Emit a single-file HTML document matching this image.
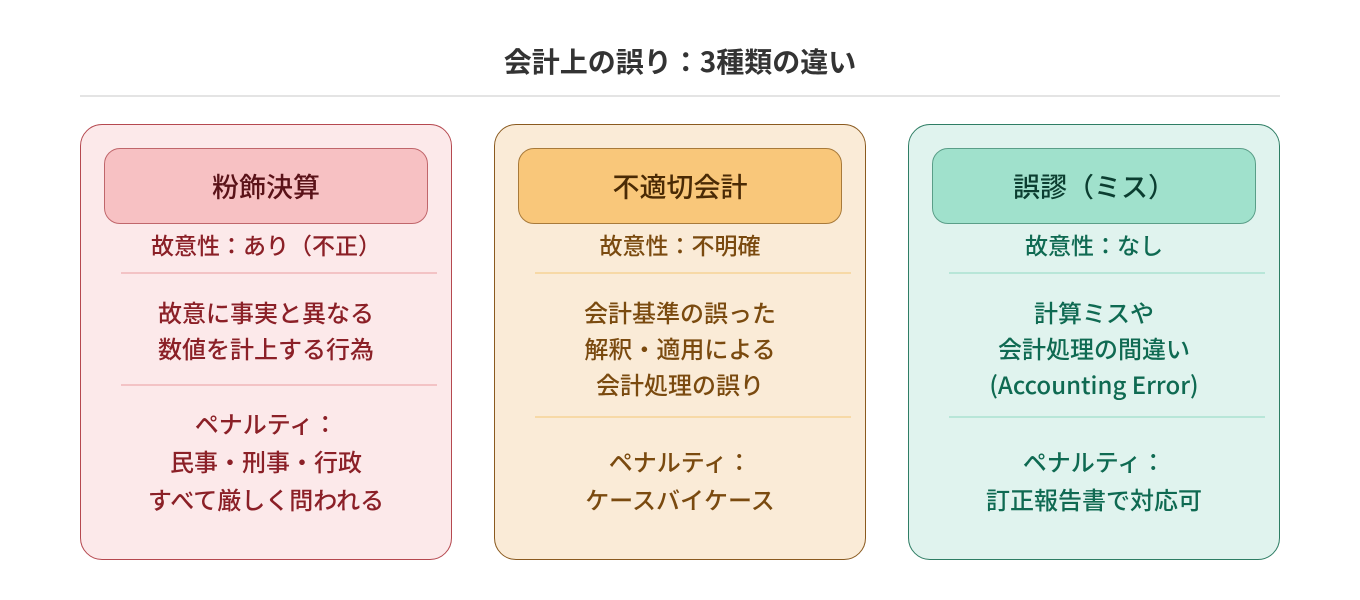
<!DOCTYPE html>
<html><head><meta charset="utf-8"><style>
body{margin:0;width:1360px;height:600px;background:#fff;position:relative;font-family:"Noto Sans CJK JP","Liberation Sans",sans-serif;overflow:hidden}
.t{position:absolute;left:0;width:1360px;top:41px;text-align:center;font-size:28px;line-height:40px;font-weight:bold;color:#333}
.hr{position:absolute;left:80px;width:1200px;top:95px;height:2px;background:#e4e4e4}
.card{position:absolute;top:124px;width:370px;height:434px;border:1px solid;border-radius:22px}
.hd{position:absolute;left:23px;top:23px;width:322px;height:74px;border:1px solid;border-radius:16px;text-align:center;line-height:74px;font-size:27px;font-weight:500}
.l{position:absolute;left:0;width:370px;text-align:center;font-size:24px;font-weight:500;line-height:36px}
.s{font-size:23px}
.d{position:absolute;left:40px;width:316px;height:2px}
.c1{left:80px;background:#fce9ea;border-color:#b5484f;color:#8b2027}
.c1 .hd{background:#f7c1c3;border-color:#c0666b;color:#5a1218}.c1 .d{background:#f3c3c5}
.c2{left:494px;background:#faebd7;border-color:#8a5a1f;color:#7a4a0f}
.c2 .hd{background:#f9c77a;border-color:#a87a3a;color:#4a2a05}.c2 .d{background:#f7d9a6}
.c3{left:908px;background:#e0f3ee;border-color:#2e7d64;color:#0f6a52}
.c3 .hd{background:#a0e1cc;border-color:#5a9e88;color:#0b3d30}.c3 .d{background:#b8e6d8}
</style></head><body>
<div class="t">会計上の誤り：3種類の違い</div>
<div class="hr"></div>
<div class="card c1"><div class="hd">粉飾決算</div>
<div class="l s" style="top:101px">故意性：あり（不正）</div><div class="d" style="top:147px"></div>
<div class="l" style="top:169px">故意に事実と異なる<br>数値を計上する行為</div><div class="d" style="top:259px"></div>
<div class="l" style="top:279px;line-height:38px">ペナルティ：<br>民事・刑事・行政<br>すべて厳しく問われる</div></div>
<div class="card c2"><div class="hd">不適切会計</div>
<div class="l s" style="top:101px">故意性：不明確</div><div class="d" style="top:147px"></div>
<div class="l" style="top:169px">会計基準の誤った<br>解釈・適用による<br>会計処理の誤り</div><div class="d" style="top:291px"></div>
<div class="l" style="top:317px;line-height:38px">ペナルティ：<br>ケースバイケース</div></div>
<div class="card c3"><div class="hd">誤謬（ミス）</div>
<div class="l s" style="top:101px">故意性：なし</div><div class="d" style="top:147px"></div>
<div class="l" style="top:169px">計算ミスや<br>会計処理の間違い<br>(Accounting Error)</div><div class="d" style="top:291px"></div>
<div class="l" style="top:317px;line-height:38px">ペナルティ：<br>訂正報告書で対応可</div></div>
</body></html>
